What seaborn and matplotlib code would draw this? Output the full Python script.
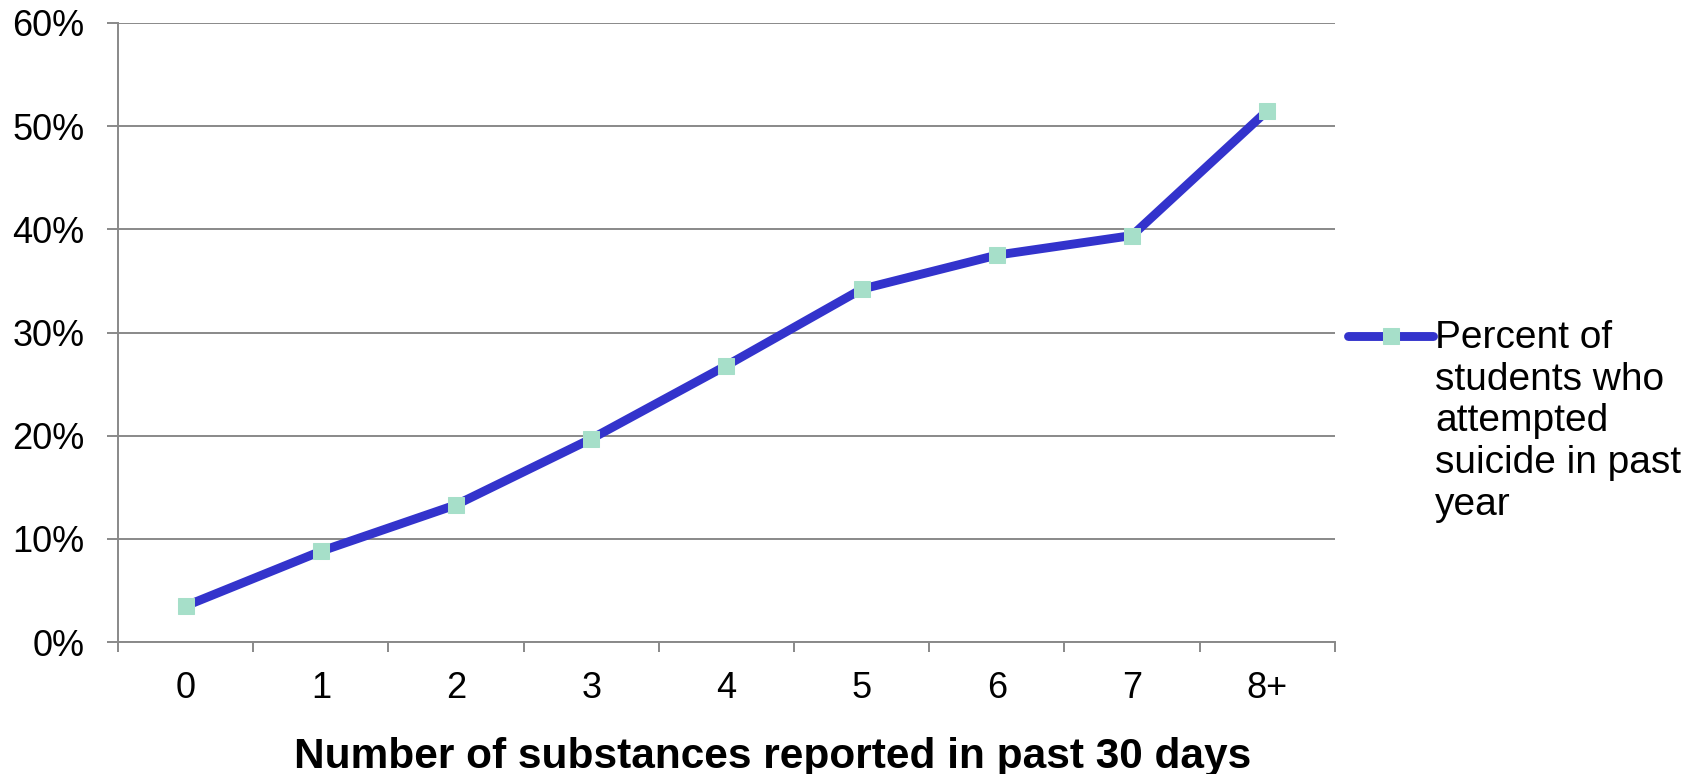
import numpy as np
import pandas as pd
import matplotlib
matplotlib.use("Agg")
import matplotlib.pyplot as plt
import seaborn as sns
from matplotlib.ticker import PercentFormatter

categories = ["0", "1", "2", "3", "4", "5", "6", "7", "8+"]
attempted = [3.5, 8.8, 13.3, 19.7, 26.8, 34.2, 37.5, 39.4, 51.5]
series_name = "Percent of\nstudents who\nattempted\nsuicide in past\nyear"
x_title = "Number of substances reported in past 30 days"

df = pd.DataFrame({"substances": categories, "pct": attempted})

sns.set_style("white")
plt.rcParams["font.family"] = ["Liberation Sans", "DejaVu Sans"]
plt.rcParams["text.color"] = "black"
plt.rcParams["axes.labelcolor"] = "black"
plt.rcParams["xtick.labelcolor"] = "black"
plt.rcParams["ytick.labelcolor"] = "black"

fig = plt.figure(figsize=(16.94, 7.74), dpi=100)
ax = fig.add_axes([0.0697, 0.1705, 0.7183, 0.7998])

grid_c = "#898989"
sns.lineplot(data=df, x="substances", y="pct", sort=False, ax=ax,
             color="#3333CC", linewidth=6.4, marker="s", markersize=12,
             markerfacecolor="#A6DFC9", markeredgecolor="#A6DFC9",
             label=series_name)

ax.set_ylim(0, 60)
ax.set_xlim(-0.5, len(categories) - 0.5)
ax.set_yticks(np.arange(0, 61, 10))
ax.yaxis.set_major_formatter(PercentFormatter(decimals=0))
ax.yaxis.grid(True, color=grid_c, linewidth=1.4)
ax.set_axisbelow(True)

for s in ["top", "right"]:
    ax.spines[s].set_visible(False)
for s in ["left", "bottom"]:
    ax.spines[s].set_color(grid_c)
    ax.spines[s].set_linewidth(1.4)

ax.tick_params(axis="y", which="major", direction="out", length=8, width=1.4,
               color=grid_c, pad=16, labelsize=26, left=True)
ax.tick_params(axis="x", which="major", length=0, pad=21, labelsize=26)
ax.set_xticks(np.arange(-0.5, len(categories), 1), minor=True)
ax.tick_params(axis="x", which="minor", direction="out", length=7, width=1.4,
               color=grid_c, bottom=True)

ax.set_ylabel("")
ax.set_xlabel(x_title, fontsize=30.5, fontweight="bold")
ax.xaxis.set_label_coords(0.538, -0.153)

leg = ax.legend(loc="upper left", bbox_to_anchor=(0.7957, 0.587),
                bbox_transform=fig.transFigure, frameon=False, fontsize=28,
                borderpad=0, borderaxespad=0, handlelength=2.2,
                handletextpad=0.05, handleheight=1.1)
for t in leg.get_texts():
    t.set_linespacing(1.21)
for col in leg._legend_handle_box.get_children():
    for item in col.get_children():
        item.align = "top"

fig.savefig("out.png", dpi=100)
